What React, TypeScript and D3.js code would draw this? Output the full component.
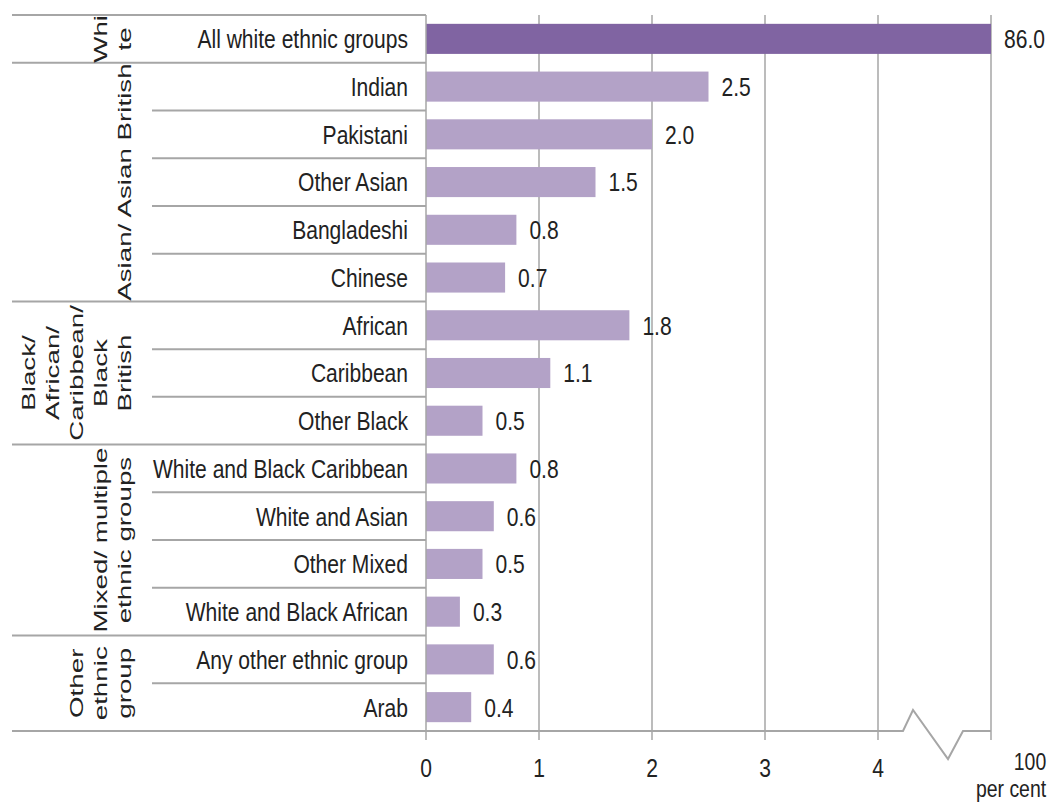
import React from "react";
import * as d3 from "d3";

const categories = [
  "All white ethnic groups",
  "Indian",
  "Pakistani",
  "Other Asian",
  "Bangladeshi",
  "Chinese",
  "African",
  "Caribbean",
  "Other Black",
  "White and Black Caribbean",
  "White and Asian",
  "Other Mixed",
  "White and Black African",
  "Any other ethnic group",
  "Arab",
];
const values = [86.0, 2.5, 2.0, 1.5, 0.8, 0.7, 1.8, 1.1, 0.5, 0.8, 0.6, 0.5, 0.3, 0.6, 0.4];
const groupNames = ["White", "Asian", "Black", "Mixed", "Other"];
const groupLines = [
  ["Whi", "te"],
  ["Asian/ Asian British"],
  ["Black/", "African/", "Caribbean/", "Black", "British"],
  ["Mixed/ multiple", "ethnic groups"],
  ["Other", "ethnic", "group"],
];
const groupSizes = [1, 5, 3, 4, 2];
const tickValues = [0, 1, 2, 3, 4, 5];
const tickLabels = ["0", "1", "2", "3", "4", "100"];
const axisMaxShown = 5; // values above are drawn at the break

const W = 1048;
const H = 803;
const left = 426;
const right = 991;
const top = 15;
const bottom = 731;
const SANS = "'Liberation Sans', Arial, sans-serif";
const GRID = "#a6a6a6";
const TEXT = "#222";
const SX = 0.81;

function NText({
  x,
  y,
  anchor = "start",
  size = 26,
  children,
}: {
  x: number;
  y: number;
  anchor?: "start" | "middle" | "end";
  size?: number;
  children: React.ReactNode;
}) {
  return (
    <g transform={`translate(${x},${y}) scale(${SX},1)`}>
      <text x={0} y={0} dy="0.36em" textAnchor={anchor} fontFamily={SANS} fontSize={size} fill={TEXT}>
        {children}
      </text>
    </g>
  );
}

export default function App() {
  const x = d3.scaleLinear().domain([0, axisMaxShown]).range([left, right]);
  const y = d3
    .scaleBand<string>()
    .domain(categories)
    .range([top, bottom])
    .paddingInner(0.37)
    .paddingOuter(0.185);
  const step = y.step();
  const rowTop = (i: number) => top + i * step;

  const bounds: number[] = [0];
  groupSizes.forEach((s) => bounds.push(bounds[bounds.length - 1] + s));

  const shown = (v: number) => Math.min(v, axisMaxShown);

  const x4 = x(4);
  const x5 = x(5);
  const zig = [
    [x(0), bottom],
    [x4 + 25, bottom],
    [x4 + 35, bottom - 21],
    [x4 + 70, bottom + 28],
    [x4 + 85, bottom],
    [x5, bottom],
  ];
  const line = d3.line();
  const last = tickValues.length - 1;

  return (
    <svg width={W} height={H} style={{ display: "block", position: "absolute", left: 0, top: 0 }}>
      <rect x={0} y={0} width={W} height={H} fill="#fff" />
      {tickValues.slice(1).map((t) => (
        <line key={"g" + t} x1={x(t)} x2={x(t)} y1={top} y2={bottom + 9} stroke={GRID} strokeWidth={1.5} />
      ))}
      {categories.map((c, i) => (
        <rect
          key={c}
          x={x(0)}
          y={y(c)}
          width={x(shown(values[i])) - x(0)}
          height={y.bandwidth()}
          fill={i === 0 ? "#8064a2" : "#b3a2c7"}
        />
      ))}
      {categories.map((c, i) => (
        <NText key={"v" + c} x={x(shown(values[i])) + 13} y={(y(c) as number) + y.bandwidth() / 2}>
          {values[i].toFixed(1)}
        </NText>
      ))}
      {categories.map((c) => (
        <NText key={"c" + c} x={408} y={(y(c) as number) + y.bandwidth() / 2} anchor="end">
          {c}
        </NText>
      ))}
      {categories.map((c, i) => {
        if (i === 0) return null;
        const isGroup = bounds.includes(i);
        return (
          <line
            key={"s" + c}
            x1={isGroup ? 12 : 152}
            x2={left}
            y1={rowTop(i)}
            y2={rowTop(i)}
            stroke={GRID}
            strokeWidth={2}
          />
        );
      })}
      <line x1={12} x2={left} y1={top} y2={top} stroke={GRID} strokeWidth={2} />
      {groupNames.map((g, gi) => {
        const cy = (rowTop(bounds[gi]) + rowTop(bounds[gi + 1])) / 2;
        const lines = groupLines[gi];
        return lines.map((ln, li) => {
          const cx = 125 - (lines.length - 1 - li) * 24;
          return (
            <text
              key={g + li}
              transform={`translate(${cx},${cy}) scale(1,1.5) rotate(-90)`}
              textAnchor="middle"
              dy="0.35em"
              fontFamily={SANS}
              fontSize={18.5}
              fill={TEXT}
            >
              {ln}
            </text>
          );
        });
      })}
      <line x1={x(0)} x2={x(0)} y1={top} y2={bottom + 9} stroke={GRID} strokeWidth={1.5} />
      <line x1={12} x2={x(0)} y1={bottom} y2={bottom} stroke={GRID} strokeWidth={2} />
      <path d={line(zig as [number, number][]) || ""} fill="none" stroke={GRID} strokeWidth={2} />
      {tickValues.map((t, i) => (
        <NText
          key={"t" + t}
          x={i === last ? x(t) + 39 : x(t)}
          y={i === last ? 761 : 768}
          size={i === last ? 24 : 26}
          anchor="middle"
        >
          {tickLabels[i]}
        </NText>
      ))}
      <NText x={x5 + 20} y={788} size={24} anchor="middle">
        per cent
      </NText>
    </svg>
  );
}
